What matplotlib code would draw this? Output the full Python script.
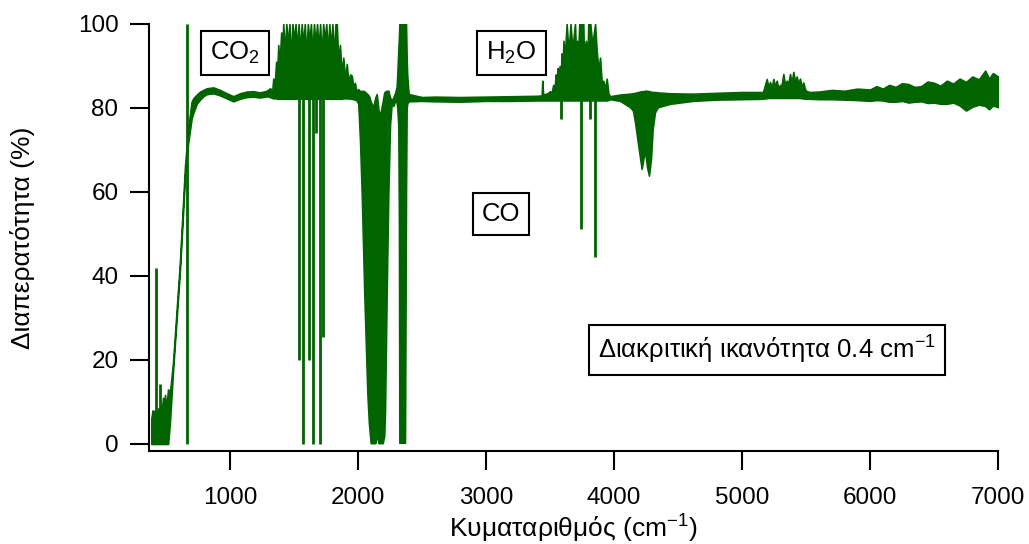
import matplotlib
matplotlib.use("Agg")
import matplotlib.pyplot as plt

plt.rcParams['font.family'] = ['Liberation Sans', 'DejaVu Sans']
plt.rcParams['mathtext.fontset'] = 'custom'
plt.rcParams['mathtext.rm'] = 'Liberation Sans'
plt.rcParams['mathtext.it'] = 'Liberation Sans'
plt.rcParams['mathtext.default'] = 'rm'

# ---- data: transmittance envelope (wavenumber, lower, upper) ----
wavenumber = [385, 395, 405, 414, 422, 430, 440, 447, 460, 468, 477, 485, 492, 500, 508, 516,
              530, 555, 609, 648, 672, 700, 713, 740, 766, 792, 818, 870, 922, 974, 1026,
              1078, 1130, 1182, 1234, 1287, 1313, 1330, 1338, 1348, 1360, 1368, 1377, 1386,
              1400, 1408, 1416, 1428, 1440, 1452, 1464, 1476, 1488, 1500, 1512, 1524, 1536,
              1548, 1560, 1572, 1584, 1596, 1608, 1620, 1632, 1644, 1656, 1668, 1680, 1692,
              1704, 1716, 1728, 1740, 1752, 1764, 1776, 1788, 1800, 1812, 1824, 1834, 1846,
              1859, 1872, 1885, 1898, 1912, 1925, 1938, 1951, 1963, 1975, 1988, 2002, 2016,
              2029, 2049, 2073, 2085, 2099, 2119, 2135, 2146, 2151, 2160, 2172, 2193, 2205,
              2211, 2224, 2237, 2250, 2263, 2276, 2289, 2302, 2307, 2315, 2320, 2323, 2367,
              2375, 2380, 2384, 2393, 2398, 2500, 2600, 2797, 3000, 3200, 3400, 3435, 3440,
              3446, 3480, 3500, 3512, 3525, 3535, 3545, 3552, 3560, 3567, 3575, 3583, 3590,
              3597, 3605, 3615, 3630, 3645, 3660, 3675, 3695, 3702, 3712, 3721, 3729, 3745,
              3760, 3765, 3780, 3794, 3799, 3815, 3830, 3852, 3865, 3878, 3891, 3904, 3917,
              3930, 3943, 3956, 3969, 4047, 4125, 4148, 4164, 4190, 4216, 4230, 4242, 4258,
              4273, 4289, 4302, 4320, 4344, 4438, 4617, 4800, 5000, 5164, 5180, 5193, 5206,
              5219, 5232, 5245, 5258, 5271, 5284, 5297, 5310, 5323, 5336, 5349, 5362, 5375,
              5388, 5401, 5414, 5427, 5440, 5453, 5466, 5479, 5492, 5505, 5531, 5600, 5700,
              5800, 5900, 6000, 6050, 6100, 6150, 6200, 6250, 6300, 6350, 6400, 6450, 6500,
              6550, 6600, 6650, 6700, 6750, 6800, 6850, 6900, 6930, 6960, 7000]
trans_low = [0, 0, 0, 0, 0, 0, 0, 0, 0, 0, 0, 0, 0, 0, 0, 0,
             5, 17.5, 41.5, 63.5, 71.5, 77.5, 78.8, 81, 82, 82.8, 83.3, 83.5, 83.0, 82.3, 81.6,
             82.2, 82.6, 82.7, 82.5, 82.8, 82.6, 82.4, 82.3, 82.3, 82.3, 82.2, 82.2, 82.2,
             82.2, 82.2, 82.2, 82.2, 82.2, 82.2, 82.2, 82.2, 82.2, 82.2, 82.2, 82.2, 82.2,
             82.2, 82.2, 82.2, 82.2, 82.2, 82.2, 82.2, 82.2, 82.2, 82.2, 82.2, 82.2, 82.2,
             82.2, 82.2, 82.2, 82.2, 82.2, 82.2, 82.2, 82.2, 82.2, 82.2, 82.2, 82.2, 82.2,
             82.2, 82.2, 82.3, 82.3, 82.3, 82.3, 82.2, 82.2, 82.1, 82.0, 81.8, 81.1, 72,
             59.7, 35.9, 12.1, 5, 0.2, 0.2, 0.2, 1.5, 3, 0.2, 0.2, 0.2, 2,
             8, 36, 60, 76, 81, 80.5, 81.5, 81.5, 80, 75.8, 52, 0.3, 0.3,
             60, 80, 81, 81.6, 81.6, 81.7, 81.6, 81.5, 81.7, 81.7, 81.8, 81.8, 81.8,
             81.8, 81.8, 81.8, 81.8, 81.8, 81.8, 81.8, 81.8, 81.8, 81.8, 81.8, 81.8, 81.8,
             81.8, 81.8, 81.8, 81.8, 81.8, 81.8, 81.8, 81.8, 81.8, 81.8, 81.8, 81.8, 81.8,
             81.8, 81.8, 81.8, 81.8, 81.8, 81.8, 81.8, 81.8, 81.8, 81.8, 81.8, 81.8, 81.8,
             81.8, 81.8, 81.9, 82.1, 81.7, 80.2, 79.4, 76.7, 71, 65.5, 68, 69.8, 66,
             63.9, 68, 75, 79, 80.2, 81, 81.7, 82, 82.1, 82.2, 82.3, 82.3, 82.4,
             82.4, 82.4, 82.4, 82.4, 82.4, 82.4, 82.4, 82.4, 82.4, 82.4, 82.4, 82.4, 82.4,
             82.4, 82.4, 82.4, 82.4, 82.4, 82.4, 82.3, 82.3, 82.2, 82.2, 82.2, 82.1, 82.1,
             82.0, 81.9, 81.7, 81.9, 81.8, 81.5, 81.5, 81.7, 81.3, 81.5, 81.6, 81.2, 81.3,
             81.0, 81.0, 81.3, 80.6, 79.4, 80.3, 80.8, 80.5, 79.7, 80.6, 80.2]
trans_high = [6, 8, 7.6, 8, 6.5, 7, 8.5, 7, 9, 8.5, 11, 8.5, 11.7, 9, 10.5, 13,
              12, 19.5, 43.5, 66, 75, 81.5, 82.3, 83.2, 83.9, 84.3, 84.7, 84.9, 84.3, 83.5, 82.8,
              83.5, 83.9, 84.0, 83.7, 84.1, 84.7, 84.0, 87, 85, 91, 88, 95, 90,
              98, 92, 100, 93, 100, 95, 100, 92, 100, 96, 100, 94, 100,
              93, 100, 95, 100, 92, 100, 96, 100, 93, 100, 95, 100, 94,
              100, 92, 100, 96, 100, 93, 100, 94, 100, 92, 100, 100, 91,
              95, 88, 92, 87, 90.5, 86, 88, 87.7, 85, 86, 84, 84.5, 84,
              84.1, 84.0, 83.3, 82.9, 81.5, 80.2, 82.5, 83.3, 82, 79.5, 78.2, 81.5, 83.7,
              83.9, 84.1, 84.1, 82.5, 81.8, 82.5, 83.5, 85, 88, 93.8, 97, 100, 100,
              100, 92, 88, 84, 83.3, 82.6, 82.7, 82.6, 82.7, 82.8, 82.9, 83, 86.5,
              83.2, 83.5, 84, 83.5, 85.5, 84.5, 88, 86, 89.5, 87, 90, 86, 93,
              88, 96, 92, 100, 93, 100, 94, 100, 94, 96, 94, 100, 100,
              100, 93, 96, 93, 100, 100, 95, 100, 93.5, 89, 92, 86, 86.5,
              84.5, 87, 83.5, 82.8, 83.2, 83.4, 83.5, 83.6, 83.8, 84, 84, 84.1, 84.1,
              84, 83.9, 83.8, 83.8, 83.7, 83.5, 83.4, 83.6, 83.8, 83.8, 85.5, 86.9, 85,
              86.2, 84.8, 86.9, 85.2, 86.5, 84.6, 85.5, 85.5, 88.1, 85.5, 86.5, 85.8, 88.1,
              86, 88.6, 86.3, 87.5, 85.8, 87, 85, 86.1, 84.5, 84, 83.8, 83.9, 84.3,
              84.1, 84.6, 84.4, 85.2, 84.6, 85.5, 85.0, 85.9, 85.7, 85.0, 85.2, 86.3, 86.0,
              85.3, 86.5, 85.8, 87, 86.2, 87.5, 86.8, 88.9, 87, 88.3, 87.5]

# narrow absorption / emission lines (wavenumber, from, to)
line_wn = [418, 453, 667, 1541, 1573, 1617, 1651, 1672, 1703, 1729, 3583, 3740, 3812, 3852]
line_low = [0, 0, 0, 20, 0, 20, 0, 74, 0, 25.4, 77.4, 51.2, 77.4, 44.5]
line_high = [42, 14.3, 100, 83, 83, 83, 83, 83, 83, 83, 82, 82, 82, 82]

x_ticks = [1000, 2000, 3000, 4000, 5000, 6000, 7000]
y_ticks = [0, 20, 40, 60, 80, 100]

green = '#006400'

fig = plt.figure(figsize=(10.29, 5.44), dpi=100)
ax = fig.add_axes([149 / 1029, 1 - 451 / 544, (998 - 149) / 1029, (451 - 24) / 544])

ax.fill_between(wavenumber, trans_low, trans_high, facecolor=green, edgecolor=green,
                linewidth=1.2)
ax.vlines(line_wn, line_low, line_high, colors=green, linewidth=2.0)

ax.set_xlim(367, 7000)
ax.set_ylim(-1.67, 100)
ax.set_xticks(x_ticks)
ax.set_yticks(y_ticks)

for s in ['top', 'right']:
    ax.spines[s].set_visible(False)
for s in ['left', 'bottom']:
    ax.spines[s].set_linewidth(1.5)

ax.tick_params(axis='both', direction='out', length=14, width=1.5, labelsize=17.5)
ax.tick_params(axis='x', pad=12)
ax.tick_params(axis='y', pad=8)

ax.set_xlabel('Κυματαριθμός (cm$^{-1}$)', fontsize=19)
ax.set_ylabel('Διαπερατότητα (%)', fontsize=19)
ax.xaxis.set_label_coords(0.5, -0.145)
ax.yaxis.set_label_coords(-0.134, 0.5)

box = dict(boxstyle='square,pad=0.35', facecolor='white', edgecolor='black', linewidth=1.5)
ax.text(1039, 93.1, 'CO$_2$', fontsize=18.5, ha='center', va='center', bbox=box)
ax.text(3199, 93.1, 'H$_2$O', fontsize=18.5, ha='center', va='center', bbox=box)
ax.text(3117, 54.8, 'CO', fontsize=18.5, ha='center', va='center', bbox=box)
ax.text(5195, 22.4, 'Διακριτική ικανότητα 0.4 cm$^{-1}$', fontsize=18.5, ha='center',
        va='center', bbox=box)

fig.savefig('out.png', dpi=100)
